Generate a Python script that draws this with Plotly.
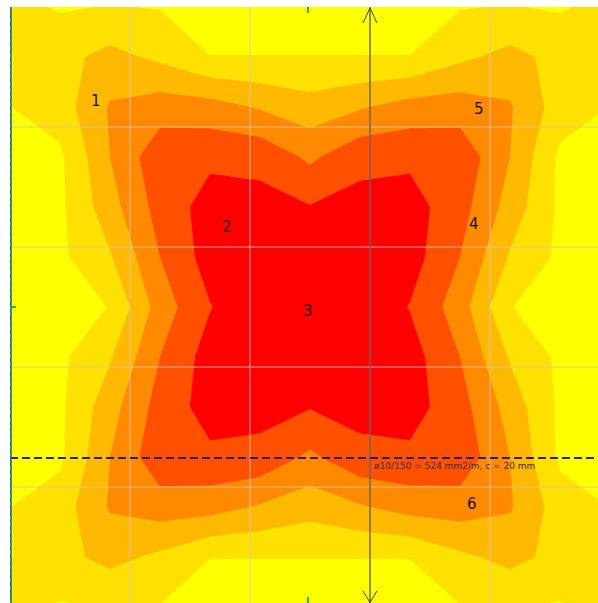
import plotly.graph_objects as go

# Slab 5 m x 5 m, FE mesh 12 x 12 elements; node values of required reinforcement
# zone index (rows listed from the top edge y = 5 down to the bottom edge y = 0)
slab_size = 5.0
n_el = 12
zone_rows = [
    [1.30, 0.90, 1.05, 0.95, 0.50, 0.50, 0.50, 0.50, 0.50, 0.95, 1.05, 0.90, 1.30],
    [0.95, 1.70, 2.30, 1.80, 1.02, 1.02, 1.02, 1.02, 1.02, 1.80, 2.30, 1.70, 0.95],
    [0.98, 1.50, 3.10, 3.50, 3.40, 2.90, 2.40, 2.90, 3.40, 3.50, 3.10, 1.50, 0.98],
    [0.60, 0.80, 3.00, 4.70, 4.80, 4.73, 3.80, 4.73, 4.80, 4.70, 3.00, 0.80, 0.60],
    [0.50, 0.80, 2.60, 4.40, 5.40, 5.30, 5.05, 5.30, 5.40, 4.40, 2.60, 0.80, 0.50],
    [0.50, 0.80, 1.90, 4.00, 5.43, 5.90, 5.60, 5.90, 5.43, 4.00, 1.90, 0.80, 0.50],
    [0.40, 0.70, 1.02, 3.47, 4.95, 5.80, 6.00, 5.80, 4.95, 3.47, 1.02, 0.70, 0.40],
    [0.50, 0.80, 1.90, 4.00, 5.43, 5.90, 5.60, 5.90, 5.43, 4.00, 1.90, 0.80, 0.50],
    [0.50, 0.80, 2.60, 4.40, 5.40, 5.30, 5.05, 5.30, 5.40, 4.40, 2.60, 0.80, 0.50],
    [0.60, 0.80, 3.00, 4.70, 4.80, 4.73, 3.80, 4.73, 4.80, 4.70, 3.00, 0.80, 0.60],
    [0.98, 1.50, 3.10, 3.50, 3.40, 2.90, 2.40, 2.90, 3.40, 3.50, 3.10, 1.50, 0.98],
    [0.95, 1.70, 2.30, 1.80, 1.02, 1.02, 1.02, 1.02, 1.02, 1.80, 2.30, 1.70, 0.95],
    [1.30, 0.90, 1.05, 0.95, 0.50, 0.50, 0.50, 0.50, 0.50, 0.95, 1.05, 0.90, 1.30],
]
zone_colors = ["#FFFF00", "#FFE100", "#FFB900", "#FF8A00", "#FF5000", "#FF0000"]

# zone labels
label_text = ["1", "2", "3", "4", "5", "6"]
label_x = [0.72, 1.81, 2.48, 3.87, 3.91, 3.85]
label_y = [4.22, 3.17, 2.47, 3.19, 4.15, 0.86]

# reinforcement section line
section_y = 1.242
section_text = "ø10/150 = 524 mm2/m, c = 20 mm"
cut_x = 3.0

h = slab_size / n_el
xs = [i * h for i in range(n_el + 1)]
ys = [i * h for i in range(n_el + 1)]
z = zone_rows[::-1]  # bottom row first, matching ascending y

# stepped colour scale: one flat colour per contour band
cs = []
nb = len(zone_colors)
for k, c in enumerate(zone_colors):
    lo = max(0.0, (k - 0.5) / (nb - 1))
    hi = min(1.0, (k + 0.5) / (nb - 1))
    cs.append([lo, c])
    cs.append([hi, c])

fig = go.Figure()
fig.add_trace(go.Contour(
    x=xs, y=ys, z=z,
    autocontour=False,
    contours=dict(start=1, end=5, size=1, coloring="fill", showlines=False),
    colorscale=cs,
    showscale=False,
    line=dict(width=0, smoothing=0),
    hoverinfo="skip",
))

x_max = 4.9
y_min = slab_size - 596 / 120

shapes = []
grid_col = "rgba(200,200,200,0.85)"
for g in [1, 2, 3, 4]:
    shapes.append(dict(type="line", xref="x", yref="y", x0=g, x1=g, y0=y_min, y1=slab_size,
                       line=dict(color=grid_col, width=1), layer="above"))
    shapes.append(dict(type="line", xref="x", yref="y", x0=0, x1=x_max, y0=g, y1=g,
                       line=dict(color=grid_col, width=1), layer="above"))

# section cut with arrow heads at both ends
ink = "#3a3a3a"
shapes.append(dict(type="line", xref="x", yref="y", x0=cut_x, x1=cut_x, y0=y_min, y1=slab_size,
                   line=dict(color=ink, width=1), layer="above"))
top_tip = slab_size - 1 / 120
for dx in (-0.058, 0.058):
    shapes.append(dict(type="line", xref="x", yref="y", x0=cut_x, x1=cut_x + dx,
                       y0=top_tip, y1=top_tip - 0.125, line=dict(color=ink, width=1), layer="above"))
    shapes.append(dict(type="line", xref="x", yref="y", x0=cut_x, x1=cut_x + dx,
                       y0=y_min + 0.004, y1=y_min + 0.1, line=dict(color=ink, width=1), layer="above"))

# dashed reinforcement line
shapes.append(dict(type="line", xref="x", yref="y", x0=0, x1=x_max, y0=section_y, y1=section_y,
                   line=dict(color="#2c1f78", width=2, dash="8px,4px"), layer="above"))

# slab edge support line
shapes.append(dict(type="line", xref="x", yref="y", x0=0.006, x1=0.006, y0=y_min, y1=slab_size,
                   line=dict(color="#2a5fb0", width=2), layer="above"))
shapes.append(dict(type="line", xref="x", yref="y", x0=0.006, x1=0.006, y0=y_min, y1=slab_size,
                   line=dict(color="#2aa52a", width=2, dash="3px,4px"), layer="above"))

# symmetry marks
green = "#1fb51f"
shapes.append(dict(type="line", xref="x", yref="y", x0=2.483, x1=2.483, y0=slab_size, y1=slab_size - 0.05,
                   line=dict(color=green, width=2), layer="above"))
shapes.append(dict(type="line", xref="x", yref="y", x0=2.483, x1=2.483, y0=y_min, y1=y_min + 0.05,
                   line=dict(color=green, width=2), layer="above"))
shapes.append(dict(type="line", xref="x", yref="y", x0=0, x1=0.05, y0=2.5, y1=2.5,
                   line=dict(color=green, width=2), layer="above"))

annotations = []
for t, lx, ly in zip(label_text, label_x, label_y):
    annotations.append(dict(x=lx, y=ly, xref="x", yref="y", text=t, showarrow=False,
                            font=dict(family="DejaVu Sans", size=15, color="#111111"),
                            xanchor="center", yanchor="middle"))
annotations.append(dict(x=cut_x + 0.015, y=section_y - 0.07, xref="x", yref="y", text=section_text,
                        showarrow=False, font=dict(family="DejaVu Sans", size=9, color="#333333"),
                        xanchor="left", yanchor="middle"))

fig.update_layout(
    width=598, height=603,
    margin=dict(l=10, r=0, t=7, b=0, pad=0),
    paper_bgcolor="white", plot_bgcolor="white",
    showlegend=False,
    shapes=shapes,
    annotations=annotations,
    xaxis=dict(range=[0, x_max], showgrid=False, zeroline=False, showticklabels=False,
               ticks="", showline=False, fixedrange=True),
    yaxis=dict(range=[y_min, slab_size], showgrid=False, zeroline=False, showticklabels=False,
               ticks="", showline=False, fixedrange=True),
)

fig.write_html("out.html")
